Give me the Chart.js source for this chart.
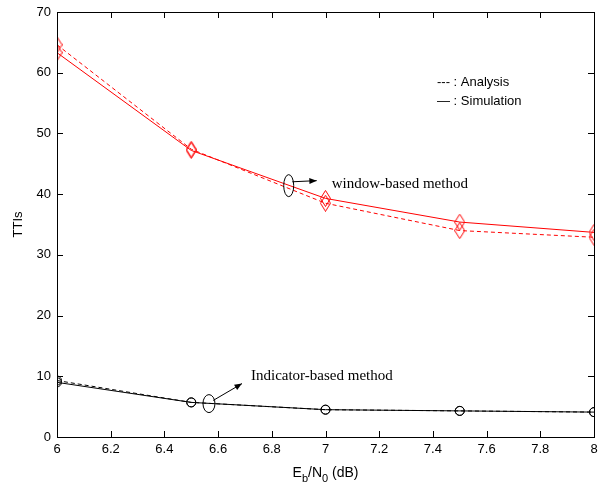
<!DOCTYPE html>
<html>
<head>
<meta charset="utf-8">
<script src="https://cdn.jsdelivr.net/npm/chart.js@4"></script>
<style>
  html, body { margin: 0; padding: 0; background: #fff; }
  canvas { display: block; }
</style>
</head>
<body>
<canvas id="chart" width="601" height="488"></canvas>
<script>
// data
const ebn0 = [6, 6.5, 7, 7.5, 8];
const windowSim = [63.3, 47.2, 39.3, 35.4, 33.7];
const windowAna = [64.6, 47.4, 38.5, 34.0, 32.9];
const indicatorSim = [9.0, 5.7, 4.5, 4.3, 4.1];
const indicatorAna = [9.3, 5.7, 4.5, 4.3, 4.1];

const xTicks = [6, 6.2, 6.4, 6.6, 6.8, 7, 7.2, 7.4, 7.6, 7.8, 8];
const yTicks = [0, 10, 20, 30, 40, 50, 60, 70];

const legendLines = ["--- : Analysis", "\u2014 : Simulation"];
const windowLabel = "window-based method";
const indicatorLabel = "Indicator-based method";

function pts(ys) {
  return ebn0.map((x, i) => ({ x: x, y: ys[i] }));
}

function diamondMarker(color) {
  const c = document.createElement("canvas");
  c.width = 11;
  c.height = 17;
  const g = c.getContext("2d");
  g.strokeStyle = color;
  g.lineWidth = 1;
  g.beginPath();
  g.moveTo(5.5, 0.5);
  g.lineTo(10.5, 8.5);
  g.lineTo(5.5, 16.5);
  g.lineTo(0.5, 8.5);
  g.closePath();
  g.stroke();
  return c;
}

const redDiamond = diamondMarker("#ff0000");

function lineSet(label, ys, color, dashed, marker) {
  return {
    label: label,
    data: pts(ys),
    borderColor: color,
    backgroundColor: "rgba(0,0,0,0)",
    borderWidth: 1,
    borderDash: dashed ? [4, 3] : [],
    pointStyle: marker,
    pointRadius: marker === "circle" ? 4.5 : 6,
    pointBorderColor: color,
    pointBorderWidth: 1,
    pointBackgroundColor: "rgba(0,0,0,0)",
    tension: 0,
  };
}

const decor = {
  id: "decor",
  afterDraw(chart) {
    const ctx = chart.ctx;
    const a = chart.chartArea;
    const xs = chart.scales.x;
    const ys = chart.scales.y;
    ctx.save();

    // box + inward ticks
    ctx.strokeStyle = "#000";
    ctx.lineWidth = 1;
    ctx.strokeRect(Math.round(a.left) + 0.5, Math.round(a.top) + 0.5,
      Math.round(a.right - a.left), Math.round(a.bottom - a.top));
    ctx.beginPath();
    xTicks.forEach((v) => {
      const px = Math.round(xs.getPixelForValue(v)) + 0.5;
      ctx.moveTo(px, a.bottom);
      ctx.lineTo(px, a.bottom - 6);
      ctx.moveTo(px, a.top);
      ctx.lineTo(px, a.top + 6);
    });
    yTicks.forEach((v) => {
      const py = Math.round(ys.getPixelForValue(v)) + 0.5;
      ctx.moveTo(a.left, py);
      ctx.lineTo(a.left + 6, py);
      ctx.moveTo(a.right, py);
      ctx.lineTo(a.right - 6, py);
    });
    ctx.stroke();

    // legend text
    ctx.fillStyle = "#000";
    ctx.font = "13px 'Liberation Sans', Arial, sans-serif";
    ctx.textBaseline = "middle";
    ctx.textAlign = "left";
    ctx.fillText(legendLines[0], 437, 82);
    ctx.fillText(legendLines[1], 437, 101);

    // annotations: ellipse + arrow + label
    function note(xv, yv, rx, ry, ax, ay, text, tx, ty) {
      const cx = xs.getPixelForValue(xv);
      const cy = ys.getPixelForValue(yv);
      ctx.beginPath();
      ctx.ellipse(cx, cy, rx, ry, 0, 0, Math.PI * 2);
      ctx.stroke();
      const sx = cx + rx * 0.7;
      const sy = cy - ry * 0.35;
      const ex = cx + ax;
      const ey = cy + ay;
      ctx.beginPath();
      ctx.moveTo(sx, sy);
      ctx.lineTo(ex, ey);
      ctx.stroke();
      const ang = Math.atan2(ey - sy, ex - sx);
      ctx.beginPath();
      ctx.moveTo(ex, ey);
      ctx.lineTo(ex - 8 * Math.cos(ang - 0.4), ey - 8 * Math.sin(ang - 0.4));
      ctx.lineTo(ex - 8 * Math.cos(ang + 0.4), ey - 8 * Math.sin(ang + 0.4));
      ctx.closePath();
      ctx.fill();
      ctx.font = "15px 'Liberation Serif', 'Times New Roman', serif";
      ctx.fillText(text, cx + tx, cy + ty);
    }
    note(6.863, 41.4, 5, 11, 28, -5, windowLabel, 43, -2);
    note(6.566, 5.5, 6, 9, 33, -20, indicatorLabel, 42, -28);

    // x axis title with subscripts
    const big = "14px 'Liberation Sans', Arial, sans-serif";
    const small = "11px 'Liberation Sans', Arial, sans-serif";
    const parts = [["E", big, 0], ["b", small, 5], ["/N", big, 0], ["0", small, 5], [" (dB)", big, 0]];
    let w = 0;
    parts.forEach((p) => { ctx.font = p[1]; w += ctx.measureText(p[0]).width; });
    let x = (a.left + a.right) / 2 - w / 2;
    const baseY = 477;
    ctx.textBaseline = "alphabetic";
    parts.forEach((p) => {
      ctx.font = p[1];
      ctx.fillText(p[0], x, baseY + p[2]);
      x += ctx.measureText(p[0]).width;
    });
    ctx.restore();
  },
};

new Chart(document.getElementById("chart"), {
  type: "line",
  data: {
    datasets: [
      lineSet("window sim", windowSim, "#ff0000", false, redDiamond),
      lineSet("window ana", windowAna, "#ff0000", true, redDiamond),
      lineSet("indicator sim", indicatorSim, "#000000", false, "circle"),
      lineSet("indicator ana", indicatorAna, "#000000", true, "circle"),
    ],
  },
  options: {
    responsive: false,
    animation: false,
    devicePixelRatio: 1,
    layout: { padding: { left: 0, right: 4, top: 12, bottom: 0 } },
    plugins: { legend: { display: false }, tooltip: { enabled: false } },
    scales: {
      x: {
        type: "linear",
        min: 6,
        max: 8,
        afterFit(scale) {
          scale.height = 51;
          scale.paddingLeft = 0;
          scale.paddingRight = 0;
        },
        afterBuildTicks(scale) { scale.ticks = xTicks.map((v) => ({ value: v })); },
        grid: { display: false, drawTicks: false },
        border: { display: false },
        ticks: {
          color: "#000",
          padding: 5,
          maxRotation: 0,
          autoSkip: false,
          font: { family: "'Liberation Sans', Arial, sans-serif", size: 13 },
          callback: (v) => String(Number(v.toFixed(1))),
        },
      },
      y: {
        type: "linear",
        min: 0,
        max: 70,
        afterFit(scale) {
          scale.width = 57;
          scale.paddingTop = 0;
          scale.paddingBottom = 0;
        },
        afterBuildTicks(scale) { scale.ticks = yTicks.map((v) => ({ value: v })); },
        grid: { display: false, drawTicks: false },
        border: { display: false },
        title: {
          display: true,
          text: "TTIs",
          color: "#000",
          padding: { top: 11, bottom: 0 },
          font: { family: "'Liberation Sans', Arial, sans-serif", size: 13 },
        },
        ticks: {
          color: "#000",
          padding: 6,
          font: { family: "'Liberation Sans', Arial, sans-serif", size: 13 },
        },
      },
    },
  },
  plugins: [decor],
});
</script>
</body>
</html>
